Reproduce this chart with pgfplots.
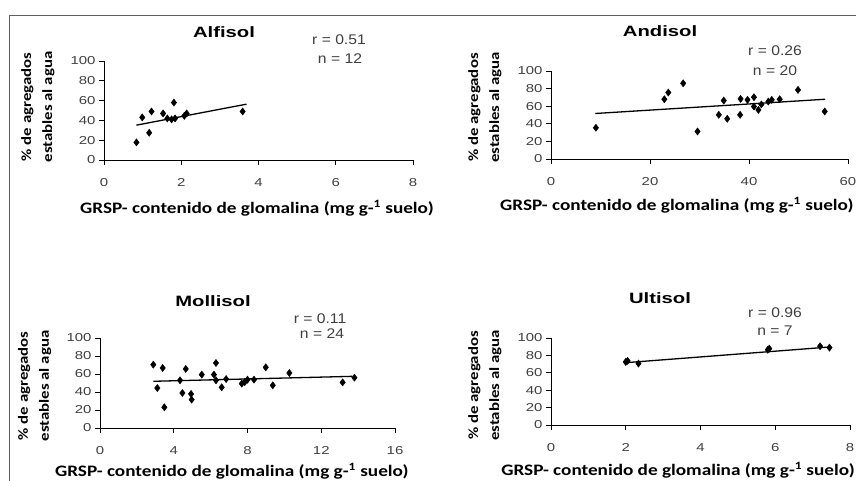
\documentclass[border=0pt]{standalone}
\usepackage{pgfplots}
\pgfplotsset{compat=1.18}
\usepackage{fontspec}
\setmainfont{Liberation Sans}
\newfontfamily\tickfont[FakeStretch=1.3]{Liberation Sans}
\newfontfamily\titlefont[FakeStretch=1.35]{Liberation Sans}
\newfontfamily\rnfont[FakeStretch=1.12]{Liberation Sans}
\newfontfamily\labfont[FakeStretch=1.2]{Carlito}
\definecolor{tickgray}{HTML}{404040}
\definecolor{framegray}{HTML}{606060}
\pgfplotsset{
 soil/.style={
  scale only axis, axis lines=left, axis line style={-, black, line width=0.9bp},
  ymin=0, ymax=100, ytick={0,20,...,100}, xmin=0,
  tick align=outside, major tick length=5bp, tick style={black, line width=0.8bp},
  /pgf/number format/assume math mode=true,
  ticklabel style={font=\tickfont\fontsize{11.5bp}{11.5bp}\selectfont, text=tickgray},
  xticklabel style={yshift=-10bp},
  clip=false,
  ylabel={\% de agregados\\estables al agua},
  ylabel style={font=\labfont\bfseries\fontsize{14bp}{21bp}\selectfont, align=center, anchor=south},
  xlabel={GRSP- contenido de glomalina (mg g-\textsuperscript{1} suelo)},
  xlabel style={font=\labfont\bfseries\fontsize{16bp}{16bp}\selectfont, anchor=center},
 },
 pts/.style={only marks, mark=diamond*, mark size=3.6bp, black},
 fitl/.style={no marks, black, line width=1.3bp},
}
\tikzset{
 ttl/.style={font=\titlefont\bfseries\fontsize{15bp}{15bp}\selectfont},
 rn/.style={font=\rnfont\fontsize{14bp}{14bp}\selectfont, text=tickgray, inner sep=0.5bp},
}
\begin{document}
\begin{tikzpicture}
\useasboundingbox (0,0) rectangle (856bp,481bp);
\fill[white] (0,0) rectangle (856bp,481bp);
\draw[framegray, line width=1.3bp] (9.5bp,0) -- (9.5bp,465.5bp) -- (856bp,465.5bp);

% Alfisol
\begin{axis}[soil, at={(104bp,321bp)}, anchor=south west, width=309bp, height=99bp,
  xmax=8, xtick={0,2,4,6,8},
  ylabel style={at={(axis description cs:-0.149,0.535)}},
  xlabel style={at={(axis description cs:0.495,-0.485)}}]
\addplot[pts] coordinates {(0.84,17.8) (0.99,43) (1.17,27.5) (1.23,49) (1.53,47) (1.64,42) (1.75,41) (1.81,58) (1.84,42) (2.08,44.6) (2.14,47) (3.59,49)};
\addplot[fitl] coordinates {(0.84,35.2) (3.69,56.4)};
\end{axis}

% Andisol
\begin{axis}[soil, at={(551bp,322bp)}, anchor=south west, width=297bp, height=88bp,
  xmax=60, xtick={0,20,40,60},
  ylabel style={at={(axis description cs:-0.155,0.585)}},
  xlabel style={at={(axis description cs:0.424,-0.523)}}]
\addplot[pts] coordinates {(9.07,35.5) (22.9,67.9) (23.7,75.5) (26.7,86) (29.6,31.3) (33.9,50.2) (34.9,66.4) (35.6,45.7) (38.2,50.2) (38.3,68.3) (39.7,67.2) (41.0,70.2) (41.0,59.6) (41.9,55.8) (42.5,62) (43.9,65.3) (44.6,67.2) (46.2,67.9) (49.9,78.5) (55.3,54)};
\addplot[fitl] coordinates {(8.94,51.7) (55.4,67.9)};
\end{axis}

% Mollisol
\begin{axis}[soil, at={(100bp,53bp)}, anchor=south west, width=295bp, height=90bp,
  xmax=16, xtick={0,4,8,12,16},
  ylabel style={at={(axis description cs:-0.153,0.467)}},
  xlabel style={at={(axis description cs:0.447,-0.478)}}]
\addplot[pts] coordinates {(2.89,70.4) (3.11,44.4) (3.40,66.7) (3.49,23) (4.34,53) (4.47,38.9) (4.65,65.6) (4.94,37.8) (4.97,31.5) (5.52,59.3) (6.18,59.3) (6.29,72.2) (6.29,53) (6.6,45.2) (6.84,54.4) (7.69,49.3) (7.85,51) (8.0,53.7) (8.35,53.7) (8.99,67.4) (9.37,47.4) (10.27,61.1) (13.16,50.7) (13.8,55.9)};
\addplot[fitl] coordinates {(2.89,51.9) (13.69,57.4)};
\end{axis}

% Ultisol
\begin{axis}[soil, at={(551bp,56bp)}, anchor=south west, width=299bp, height=87bp,
  xmax=8, xtick={0,2,4,6,8},
  ylabel style={at={(axis description cs:-0.154,0.454)}},
  xlabel style={at={(axis description cs:0.425,-0.517)}}]
\addplot[pts] coordinates {(2.0,72.5) (2.05,73.7) (2.34,70.6) (5.8,86.5) (5.84,87.8) (7.2,90.5) (7.45,88.9)};
\addplot[fitl] coordinates {(2.05,71.8) (7.47,89.7)};
\end{axis}

\node[ttl] at (224bp,448.5bp) {Alfisol};
\node[ttl] at (660bp,450bp) {Andisol};
\node[ttl] at (213bp,180bp) {Mollisol};
\node[ttl] at (660bp,183bp) {Ultisol};

\node[rn] at (339bp,441.5bp) {r = 0.51};
\node[rn] at (340bp,422bp) {n = 12};
\node[rn] at (775bp,430bp) {r = 0.26};
\node[rn] at (775bp,410bp) {n = 20};
\node[rn] at (320bp,162bp) {r = 0.11};
\node[rn] at (322bp,147.5bp) {n = 24};
\node[rn] at (775bp,168.5bp) {r = 0.96};
\node[rn] at (775bp,150bp) {n = 7};
\end{tikzpicture}
\end{document}
